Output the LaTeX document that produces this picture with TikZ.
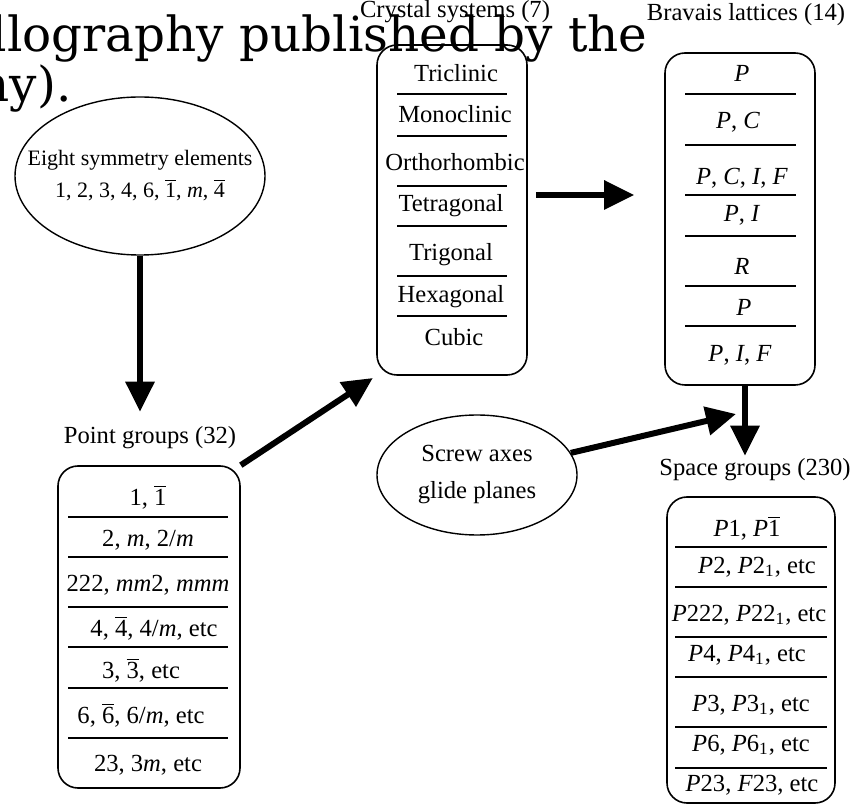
\documentclass[tikz,border=0pt]{standalone}
\usepackage{fontspec}
\setmainfont{Liberation Serif}
\newfontfamily\slidefont{DejaVu Serif}
\usetikzlibrary{shapes.geometric, arrows.meta, positioning, calc}

\newcommand{\ob}[1]{$\overline{\mbox{#1}}$}
\newcommand{\mi}[1]{\textit{#1}}

\begin{document}
\begin{tikzpicture}[x=0.5pt, y=-0.5pt, font=\fontsize{12.3}{14}\selectfont,
    listbox/.style={draw, rounded corners=10pt, line width=0.8pt},
    oval/.style={draw, ellipse, line width=0.7pt},
    sep/.style={line width=1pt},
    arr/.style={line width=3pt, -{Triangle[length=15pt, width=14pt]}},
    slide/.style={anchor=base east, inner sep=0pt, font=\slidefont\fontsize{24.2}{24.2}\selectfont}]
    \useasboundingbox (0,0) rectangle (862,806);

    % labels above the boxes
    \node (cslab) at (455,12) {Crystal systems (7)};
    \node (bllab) at (746,15) {Bravais lattices (14)};
    \node (pglab) at (150,438) {Point groups (32)};
    \node (sglab) at (755,470) {Space groups (230)};

    % crystal systems
    \node[listbox, minimum width=75pt, minimum height=165pt] (csys) at (452,210) {};
    \node (cs1) at (456,73) {Triclinic};
    \node (cs2) at (455,114) {Monoclinic};
    \node (cs3) at (455,162) {Orthorhombic};
    \node (cs4) at (451,206) {Tetragonal};
    \node (cs5) at (451,255) {Trigonal};
    \node (cs6) at (451,297) {Hexagonal};
    \node (cs7) at (454,337) {Cubic};
    \foreach \y in {94,136,186,226,276,316}
        \draw[sep] (397,\y) -- (507,\y);

    % Bravais lattices
    \node[listbox, minimum width=75pt, minimum height=166pt] (bl) at (740,219) {};
    \node (bl1) at (742,73) {\mi{P}};
    \node (bl2) at (738,122) {\mi{P}, \mi{C}};
    \node (bl3) at (742,178) {\mi{P}, \mi{C}, \mi{I}, \mi{F}};
    \node (bl4) at (742,215) {\mi{P}, \mi{I}};
    \node (bl5) at (742,266) {\mi{R}};
    \node (bl6) at (744,307) {\mi{P}};
    \node (bl7) at (740,355) {\mi{P}, \mi{I}, \mi{F}};
    \foreach \y in {94,145,195,236,286,326}
        \draw[sep] (685,\y) -- (796,\y);

    % point groups
    \node[listbox, minimum width=91pt, minimum height=161pt] (pg) at (149,627) {};
    \node (pg1) at (148,497) {1, \ob{1}};
    \node (pg2) at (148,540) {2, \mi{m}, 2/\mi{m}};
    \node (pg3) at (148,585) {222, \mi{mm}2, \mi{mmm}};
    \node (pg4) at (154,628) {4, \ob{4}, 4/\mi{m}, etc};
    \node (pg5) at (141,670) {3, \ob{3}, etc};
    \node (pg6) at (141,715) {6, \ob{6}, 6/\mi{m}, etc};
    \node (pg7) at (148,765) {23, 3\mi{m}, etc};
    \foreach \y in {517,557,607,647,688,738}
        \draw[sep] (68,\y) -- (228,\y);

    % space groups
    \node[listbox, minimum width=84pt, minimum height=153pt] (sg) at (751,650) {};
    \node (sg1) at (747,528) {\mi{P}1, \mi{P}\ob{1}};
    \node (sg2) at (757,567) {\mi{P}2, \mi{P}2\textsubscript{1}, etc};
    \node (sg3) at (749,615) {\mi{P}222, \mi{P}22\textsubscript{1}, etc};
    \node (sg4) at (747,655) {\mi{P}4, \mi{P}4\textsubscript{1}, etc};
    \node (sg5) at (751,705) {\mi{P}3, \mi{P}3\textsubscript{1}, etc};
    \node (sg6) at (751,745) {\mi{P}6, \mi{P}6\textsubscript{1}, etc};
    \node (sg7) at (752,785) {\mi{P}23, \mi{F}23, etc};
    \foreach \y in {547,587,637,677,727,768}
        \draw[sep] (675,\y) -- (827,\y);

    % ellipses
    \node[oval, minimum width=125pt, minimum height=79pt] (sym) at (140,176) {};
    \node[align=center, font=\fontsize{11}{16}\selectfont] (symtxt) at (sym) {Eight symmetry elements\\1, 2, 3, 4, 6, \ob{1}, \mi{m}, \ob{4}};
    \node[oval, minimum width=100pt, minimum height=60pt] (screw) at (477,475) {};
    \node[align=center, font=\fontsize{12.3}{18.5}\selectfont] (screwtxt) at (screw) {Screw axes\\glide planes};
    \coordinate (meet) at (736,414);

    % arrows
    \draw[arr, shorten >=4pt] (sym.south) -- (sym.south |- pglab.north);
    \draw[arr, shorten >=2pt] (pg.north east) -- (csys.south west);
    \draw[arr, shorten >=15pt] ([xshift=4pt,yshift=7.5pt]csys.east) -- ([yshift=7.5pt]csys.east -| bl.west);
    \draw[arr, shorten >=-2pt] ([xshift=2.5pt]bl.south) -- ([xshift=2.5pt]bl.south |- sglab.north);
    \draw[arr] (screw) -- (meet);

    % slide text lying over the figure
    \node[slide] (head1) at (648,52) {llography published by the};
    \node[slide] (head2) at (72,102) {ny).};
\end{tikzpicture}
\end{document}
